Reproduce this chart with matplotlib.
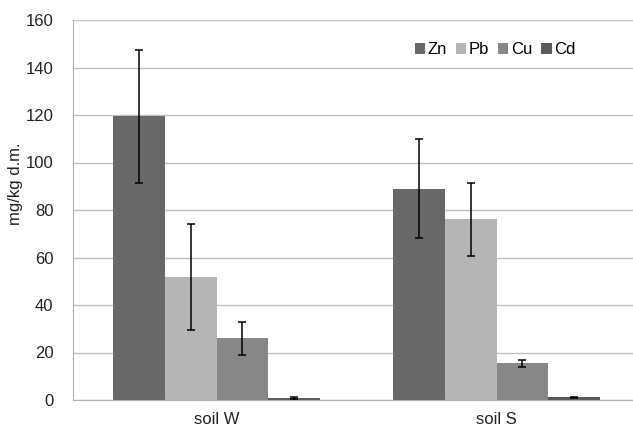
import numpy as np
import matplotlib
matplotlib.use("Agg")
import matplotlib.pyplot as plt

plt.rcParams['font.family'] = ['Liberation Sans', 'DejaVu Sans']

# data
soils = ["soil W", "soil S"]
metals = ["Zn", "Pb", "Cu", "Cd"]
means = {
    "Zn": [119.5, 89.0],
    "Pb": [51.7, 76.1],
    "Cu": [25.9, 15.4],
    "Cd": [0.9, 1.1],
}
errs = {
    "Zn": [28.0, 20.8],
    "Pb": [22.3, 15.4],
    "Cu": [6.9, 1.5],
    "Cd": [0.3, 0.2],
}
colors = {"Zn": "#686868", "Pb": "#b5b5b5", "Cu": "#878787", "Cd": "#5a5a5a"}

fig = plt.figure(figsize=(6.33, 4.29), dpi=100)
ax = fig.add_axes([73 / 633, 1 - 400 / 429, 1 - 73 / 633, 380 / 429])

x = np.arange(len(soils))
group_w = 207 / 280
w = group_w / len(metals)
for k, m in enumerate(metals):
    pos = x - group_w / 2 + w * (k + 0.5)
    ax.bar(pos, means[m], width=w, color=colors[m], label=m, zorder=2,
           linewidth=0)
    ax.errorbar(pos, means[m], yerr=errs[m], fmt="none", ecolor="black",
                elinewidth=1.1, capsize=3, capthick=1.1, zorder=3)

ax.set_xlim(-143.5 / 280, (633 - 216.5) / 280)
ax.set_ylim(0, 160)
ax.set_yticks(range(0, 161, 20))
ax.set_xticks(x)
ax.set_xticklabels(soils)
ax.tick_params(axis="both", length=0, labelsize=12, colors="#222222")
ax.tick_params(axis="y", pad=14)
ax.tick_params(axis="x", pad=9)
ax.grid(axis="y", color="#c0c0c0", linewidth=1.0, zorder=0)
ax.set_axisbelow(True)
for s in ["top", "right"]:
    ax.spines[s].set_visible(False)
ax.spines["left"].set_color("#b0b0b0")
ax.spines["bottom"].set_color("#b0b0b0")
ax.set_ylabel("mg/kg d.m.", fontsize=12, color="#222222")
ax.yaxis.set_label_coords(-50 / 560, (400 - 184) / 380)

ax.legend(loc="center", bbox_to_anchor=(495 / 633, 1 - 50 / 429),
          bbox_transform=fig.transFigure, ncol=4, frameon=False,
          fontsize=12, handlelength=0.65, handleheight=0.65,
          handletextpad=0.15, columnspacing=0.5, borderpad=0)

fig.savefig("out.png", dpi=100)
